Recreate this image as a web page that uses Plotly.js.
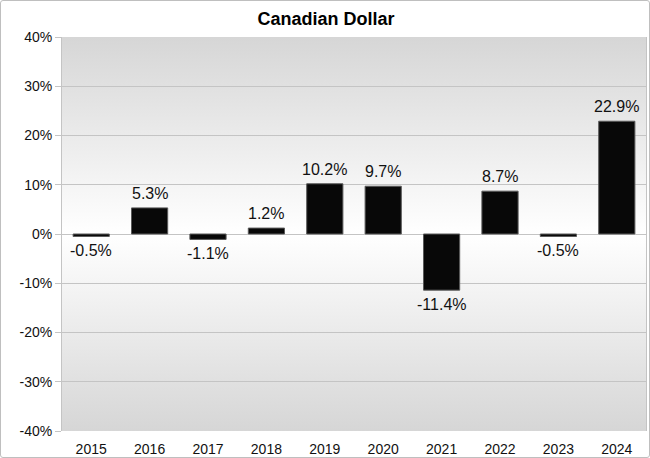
<!DOCTYPE html>
<html>
<head>
<meta charset="utf-8">
<script src="https://cdn.plot.ly/plotly-3.0.1.min.js"></script>
<style>
  body { margin: 0; padding: 0; background: #fff; }
  #chart { width: 650px; height: 458px; box-sizing: border-box; border: 1px solid #bfbfbf; border-radius: 3px; }
</style>
</head>
<body>
<div id="chart"></div>
<script>
// Annual change of the Canadian dollar (%)
var years = ['2015', '2016', '2017', '2018', '2019', '2020', '2021', '2022', '2023', '2024'];
var changes = [-0.5, 5.3, -1.1, 1.2, 10.2, 9.7, -11.4, 8.7, -0.5, 22.9];
var yTicks = [-40, -30, -20, -10, 0, 10, 20, 30, 40];

var labelFont = { family: 'Liberation Sans, Arial, sans-serif', size: 16, color: '#111' };

// background gradient for the plot area
var bgSvg = '<svg xmlns="http://www.w3.org/2000/svg" width="10" height="100" preserveAspectRatio="none">' +
    '<defs><linearGradient id="g" x1="0" y1="0" x2="0" y2="1">' +
    '<stop offset="0" stop-color="#d6d6d6"/><stop offset="0.5" stop-color="#ffffff"/>' +
    '<stop offset="1" stop-color="#d6d6d6"/></linearGradient></defs>' +
    '<rect width="10" height="100" fill="url(#g)"/></svg>';

var bars = {
    x: years,
    y: changes,
    type: 'bar',
    width: 0.62,
    marker: { color: '#080808', line: { color: '#5a5a5a', width: 1 } },
    hoverinfo: 'x+y'
};

// value labels above positive bars, below negative ones
// (x given as the category index on the category axis)
var valueLabels = changes.map(function (v, i) {
    return {
        x: i,
        y: v,
        xref: 'x', yref: 'y',
        text: v.toFixed(1) + '%',
        showarrow: false,
        font: labelFont,
        yanchor: v >= 0 ? 'bottom' : 'top',
        yshift: v >= 0 ? 4 : -4
    };
});

var layout = {
    width: 650,
    height: 458,
    margin: { l: 61, r: 5, t: 36, b: 28 },
    paper_bgcolor: 'rgba(0,0,0,0)',
    plot_bgcolor: 'rgba(0,0,0,0)',
    showlegend: false,
    title: {
        text: '<b>Canadian Dollar</b>',
        x: 0.5, xanchor: 'center', y: 0.962, yanchor: 'middle',
        font: { family: 'Liberation Sans Narrow, Arial Narrow, Liberation Sans, sans-serif', size: 18, color: '#000' }
    },
    xaxis: {
        type: 'category',
        showgrid: false,
        ticks: '',
        showline: false,
        zeroline: false,
        ticklabelstandoff: 8,
        tickfont: { family: 'Liberation Sans, Arial, sans-serif', size: 14, color: '#111' }
    },
    yaxis: {
        range: [-40, 40],
        tickvals: yTicks,
        ticktext: yTicks.map(v => v + '%'),
        showgrid: true,
        gridcolor: '#c4c4c4',
        gridwidth: 1,
        zeroline: false,
        showline: true,
        linecolor: '#c4c4c4',
        mirror: true,
        ticks: 'outside',
        ticklen: 6,
        tickcolor: '#c4c4c4',
        tickfont: { family: 'Liberation Sans, Arial, sans-serif', size: 14, color: '#111' }
    },
    annotations: valueLabels,
    images: [{
        source: 'data:image/svg+xml;base64,' + btoa(bgSvg),
        xref: 'paper', yref: 'paper',
        x: 0, y: 1, sizex: 1, sizey: 1,
        xanchor: 'left', yanchor: 'top',
        sizing: 'stretch',
        layer: 'below'
    }]
};

Plotly.newPlot('chart', [bars], layout, { displayModeBar: false, staticPlot: true });
</script>
</body>
</html>
